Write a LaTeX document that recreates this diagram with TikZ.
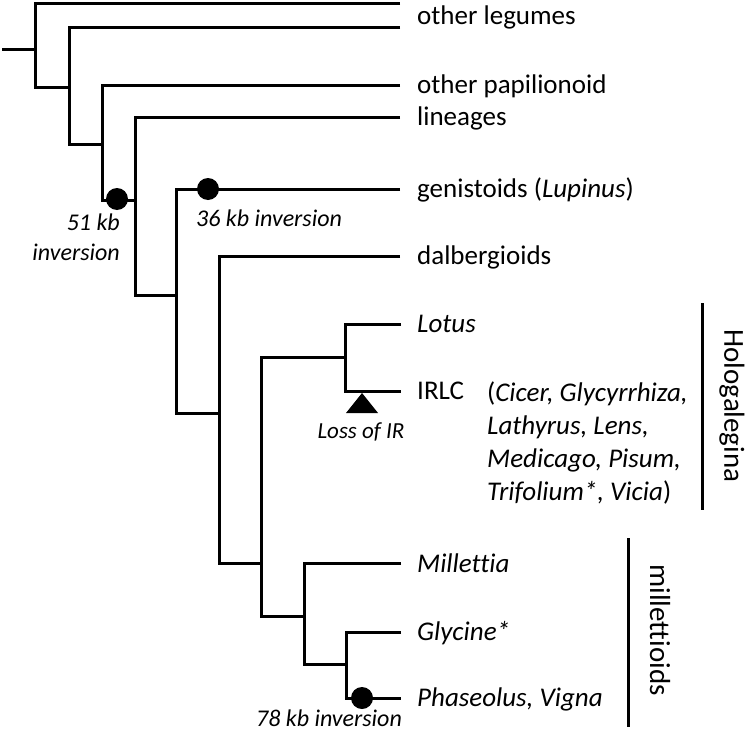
\documentclass[tikz,border=0pt]{standalone}
\usepackage{fontspec}
\setmainfont{Carlito}[Ligatures=NoCommon]
\begin{document}
\begin{tikzpicture}[x=1pt,y=-1pt,
  branch/.style={line width=3pt},
  bar/.style={line width=3pt},
  lab/.style={anchor=base west, inner sep=0pt, font=\fontsize{27}{33}\selectfont},
  small/.style={inner sep=0pt, font=\fontsize{24}{30}\selectfont\itshape},
  tiny/.style={inner sep=0pt, font=\fontsize{23}{27}\selectfont\itshape},
  clade/.style={inner sep=0pt, rotate=-90, font=\fontsize{29}{36}\selectfont},
  dot/.style={circle, fill=black, minimum size=22pt, inner sep=0pt}]
\useasboundingbox (0,0) rectangle (751,733);
% tips
\coordinate (T1) at (400,4);
\coordinate (T2) at (400,28);
\coordinate (T3) at (400,86);
\coordinate (T4) at (400,117);
\coordinate (T5) at (400,189);
\coordinate (T6) at (400,256);
\coordinate (TLot) at (401,324);
\coordinate (TIR) at (401,391);
\coordinate (TMil) at (401,563);
\coordinate (TGly) at (401,632);
\coordinate (TPha) at (401,698);
% internal nodes
\coordinate (R0) at (2,50);
\coordinate (N1m) at (35,50);
\coordinate (N1b) at (35,88);
\coordinate (N2m) at (69,88);
\coordinate (N2b) at (69,144);
\coordinate (N3m) at (102,144);
\coordinate (N3b) at (102,200);
\coordinate (N4m) at (135,200);
\coordinate (N4b) at (135,295);
\coordinate (N5m) at (176,295);
\coordinate (N5b) at (176,413);
\coordinate (N6m) at (219,413);
\coordinate (N6b) at (219,563);
\coordinate (N7m) at (261,563);
\coordinate (N7b) at (261,616);
\coordinate (N8m) at (345,357);
\coordinate (N8b) at (345,391);
\coordinate (N9m) at (304,616);
\coordinate (N9b) at (304,664);
\coordinate (N10m) at (346,664);
\coordinate (N10b) at (346,698);
% branches
\draw[branch] (R0) -- (N1m);
\draw[branch] (T1) -| (N1b) -- (N2m);
\draw[branch] (T2) -| (N2b) -- (N3m);
\draw[branch] (T3) -| (N3b) -- (N4m);
\draw[branch] (T4) -| (N4b) -- (N5m);
\draw[branch] (T5) -| (N5b) -- (N6m);
\draw[branch] (T6) -| (N6b) -- (N7m);
\draw[branch] (N8m) -| (N7b) -- (N9m);
\draw[branch] (TLot) -| (N8b) -- (TIR);
\draw[branch] (TMil) -| (N9b) -- (N10m);
\draw[branch] (TGly) -| (N10b) -- (TPha);
% markers
\node[dot] (d51) at (117,199) {};
\node[dot] (d36) at (208,189) {};
\node[dot] (d78) at (362,698) {};
\coordinate (tri) at (362,393);
\fill (tri) -- (378,413) -- (346,413) -- cycle;
% event labels
\node[small, anchor=east] (l51a) at (120,222) {51 kb};
\node[small, anchor=east] (l51b) at (120,252) {inversion};
\node[small, anchor=west] (l36) at (196,218) {36 kb inversion};
\node[small, anchor=base] (l78) at (329,726) {78 kb inversion};
\node[tiny] (lir) at (361,432) {Loss of IR};
% taxon labels
\node[lab] (a1) at (417,25) {other legumes};
\node[lab] (a2) at (417,94) {other papilionoid};
\node[lab] (a3) at (417,125) {lineages};
\node[lab] (a4) at (417,197) {genistoids (\textit{Lupinus})};
\node[lab] (a5) at (417,264) {dalbergioids};
\node[lab] (a6) at (417,332) {\textit{Lotus}};
\node[lab] (a7) at (417,399) {IRLC};
\node[lab, align=left] (a8) at (487,500) {(\textit{Cicer, Glycyrrhiza,}\\\textit{Lathyrus, Lens,}\\\textit{Medicago, Pisum,}\\\textit{Trifolium*, Vicia})};
\node[lab] (a9) at (417,572) {\textit{Millettia}};
\node[lab] (a10) at (417,640) {\textit{Glycine*}};
\node[lab] (a11) at (417,706) {\textit{Phaseolus, Vigna}};
% clade bars
\coordinate (H1) at (702,303);
\coordinate (H2) at (702,510);
\draw[bar] (H1) -- (H2);
\node[clade] (hol) at (732,406) {Hologalegina};
\coordinate (M1) at (628,538);
\coordinate (M2) at (628,727);
\draw[bar] (M1) -- (M2);
\node[clade] (mil) at (660,630) {millettioids};
\end{tikzpicture}
\end{document}
